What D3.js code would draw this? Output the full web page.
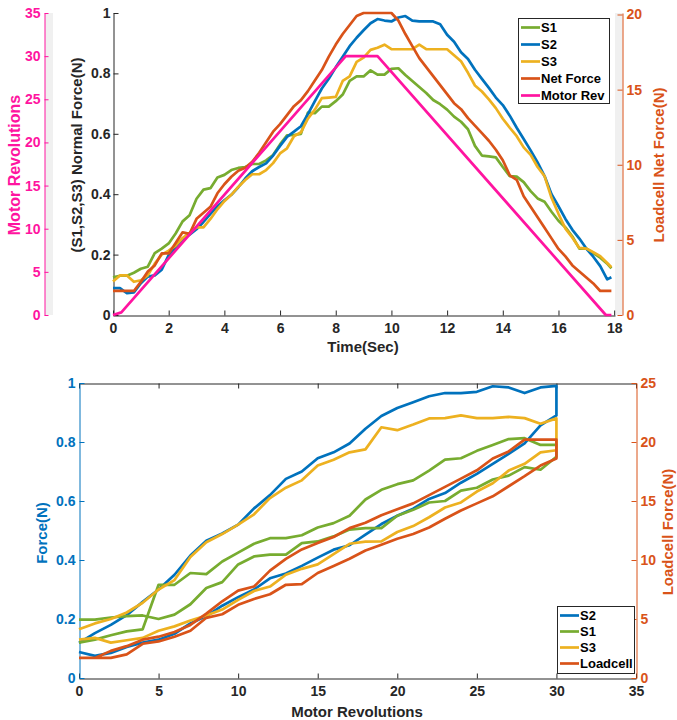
<!DOCTYPE html>
<meta charset="utf-8">
<style>
body { margin: 0; background: #fff; }
text { font-family: 'Liberation Sans', Arial, Helvetica, sans-serif; font-weight: bold; }
.tick text { font-size: 14px; }
.lbl { font-size: 15px; }
.big { font-size: 16px; }
.leg { font-size: 13px; }
.series { fill: none; stroke-width: 2.7; stroke-linejoin: round; }
</style>
<body>
<script src="https://d3js.org/d3.v7.min.js"></script>
<script>

// ---- top chart: sensor forces against time ----
const timeSec = [0,0.25,0.5,0.75,1,1.25,1.5,1.75,2,2.25,2.5,2.75,3,3.25,3.5,3.75,
  4,4.25,4.5,4.75,5,5.25,5.5,5.75,6,6.25,6.5,6.75,7,7.25,7.5,7.75,
  8,8.25,8.5,8.75,9,9.25,9.5,9.75,10,10.25,10.5,10.75,11,11.25,11.5,11.75,
  12,12.25,12.5,12.75,13,13.25,13.5,13.75,14,14.25,14.5,14.75,15,15.25,15.5,15.75,
  16,16.25,16.5,16.75,17,17.25,17.5,17.75,17.9];

const s1Force = [0.125,0.13,0.13,0.14,0.153,0.16,0.205,0.22,
  0.237,0.27,0.31,0.33,0.385,0.415,0.42,0.455,
  0.464,0.48,0.487,0.49,0.5,0.5,0.512,0.53,
  0.565,0.595,0.596,0.6,0.67,0.668,0.69,0.69,
  0.708,0.73,0.775,0.79,0.79,0.81,0.796,0.796,
  0.815,0.817,0.795,0.775,0.755,0.735,0.712,0.698,
  0.68,0.657,0.64,0.615,0.56,0.528,0.525,0.522,
  0.49,0.46,0.458,0.44,0.41,0.386,0.375,0.342,
  0.312,0.29,0.26,0.22,0.22,0.205,0.19,0.17,0.154];

const s2Force = [0.089,0.089,0.072,0.075,0.105,0.127,0.131,0.15,
  0.198,0.22,0.25,0.266,0.284,0.308,0.335,0.36,
  0.38,0.398,0.423,0.452,0.476,0.49,0.502,0.528,
  0.56,0.59,0.607,0.625,0.665,0.708,0.75,0.782,
  0.82,0.855,0.89,0.918,0.943,0.966,0.98,0.975,
  0.972,0.985,0.99,0.975,0.972,0.972,0.972,0.963,
  0.928,0.905,0.87,0.848,0.812,0.782,0.752,0.72,
  0.695,0.66,0.62,0.583,0.545,0.505,0.46,0.40,
  0.36,0.318,0.282,0.253,0.22,0.193,0.162,0.118,0.125];

const s3Force = [0.111,0.131,0.131,0.11,0.115,0.131,0.17,0.2,
  0.213,0.23,0.255,0.272,0.29,0.29,0.318,0.35,
  0.377,0.398,0.424,0.447,0.466,0.466,0.48,0.503,
  0.535,0.552,0.592,0.605,0.65,0.68,0.718,0.72,
  0.722,0.775,0.79,0.838,0.852,0.878,0.885,0.895,
  0.88,0.88,0.88,0.88,0.895,0.88,0.88,0.88,
  0.88,0.86,0.84,0.802,0.76,0.74,0.714,0.685,
  0.65,0.62,0.592,0.555,0.53,0.49,0.46,0.388,
  0.335,0.286,0.256,0.222,0.22,0.208,0.195,0.172,0.158];

const netForce = [1.6,1.6,1.6,1.6,2.2,2.9,3.3,4.1,
  4.1,4.8,5.5,5.4,6.4,6.8,7.2,8.1,
  8.7,9.2,9.6,9.8,10.2,10.8,11.5,12.2,
  12.7,13.3,13.9,14.3,14.9,15.6,16.3,17.2,
  18.0,18.7,19.3,19.9,20.1,20.1,20.1,20.1,
  20.1,19.6,18.7,17.9,17.1,16.5,15.9,15.3,
  14.7,14.1,13.7,13.1,12.6,12.1,11.6,11.0,
  10.3,9.3,9.0,7.9,7.2,6.5,5.8,5.1,
  4.4,3.9,3.3,2.9,2.5,2.1,1.6,1.6,1.6];

const motorTime = [0, 0.3, 8.36, 9.5, 17.7, 17.9];
const motorRev = [0, 0.3, 30, 30, 0, 0];

// ---- bottom chart: forces against motor revolutions ----
const revGrid = [0,1,2,3,4,5,6,7,8,9,10,11,12,13,14,15,16,17,18,19,20,21,22,23,24,25,26,27,28,29,30];

const s2Load = [0.088,0.075,0.085,0.105,0.12,0.13,0.15,0.185,0.21,0.245,0.274,0.3,0.338,0.354,0.38,0.408,
  0.435,0.45,0.486,0.522,0.55,0.574,0.607,0.627,0.662,0.692,0.726,0.76,0.795,0.856,0.89];
const s2Unload = [0.119,0.152,0.18,0.213,0.258,0.3,0.35,0.415,0.465,0.49,0.52,0.575,0.62,0.675,0.70,0.745,
  0.765,0.795,0.845,0.888,0.915,0.935,0.955,0.966,0.966,0.97,0.989,0.985,0.966,0.985,0.99];

const s1Load = [0.198,0.198,0.205,0.21,0.212,0.2,0.215,0.25,0.305,0.325,0.385,0.412,0.418,0.418,0.457,0.463,
  0.48,0.503,0.508,0.508,0.55,0.57,0.595,0.6,0.635,0.645,0.673,0.686,0.715,0.706,0.75];
const s1Unload = [0.12,0.13,0.145,0.158,0.165,0.316,0.316,0.356,0.352,0.395,0.425,0.455,0.474,0.474,0.484,0.51,
  0.525,0.55,0.605,0.638,0.657,0.67,0.703,0.74,0.745,0.77,0.79,0.81,0.813,0.79,0.79];

const s3Load = [0.13,0.136,0.12,0.128,0.136,0.16,0.175,0.195,0.212,0.232,0.265,0.295,0.31,0.35,0.37,0.385,
  0.42,0.455,0.462,0.463,0.495,0.515,0.545,0.578,0.595,0.632,0.66,0.703,0.726,0.765,0.772];
const s3Unload = [0.165,0.185,0.2,0.222,0.255,0.3,0.332,0.41,0.46,0.488,0.52,0.555,0.61,0.645,0.67,0.72,
  0.74,0.765,0.775,0.85,0.84,0.859,0.88,0.881,0.89,0.881,0.881,0.885,0.881,0.862,0.88];

const cellLoad = [1.7,1.7,1.7,2.0,2.9,3.1,3.5,4.0,5.1,5.4,6.2,6.7,7.1,7.9,7.95,8.9,
  9.5,10.1,10.8,11.3,11.8,12.2,12.75,13.5,14.2,14.8,15.4,16.25,17.1,18.0,18.6];
const cellUnload = [1.7,1.7,2.3,2.7,3.25,3.5,3.9,4.5,5.45,6.5,7.4,7.75,9.1,10.1,10.9,11.45,
  11.95,12.7,13.15,13.8,14.3,14.8,15.5,16.2,16.9,17.6,18.6,19.2,20.2,20.2,20.2];

const blue = "#0072bd", orange = "#d95319", yellow = "#edb120", green = "#77ac30",
      pink = "#ff14a0", ink = "#262626";

let svg = d3.select("body").append("svg")
            .attr("width", 677)
            .attr("height", 720);

function styleAxis(g, color) {
  g.select(".domain").attr("stroke", color).attr("stroke-width", 1);
  g.selectAll(".tick line").attr("stroke", color);
  g.selectAll(".tick text").attr("fill", color);
}

function drawLine(g, pts, x, y, color) {
  g.append("path")
    .datum(pts)
    .attr("class", "series")
    .attr("stroke", color)
    .attr("d", d3.line().x(d => x(d[0])).y(d => y(d[1])));
}

// ===================== top chart =====================
const xT = d3.scaleLinear().domain([0, 18.03]).range([113, 615]),
      yT = d3.scaleLinear().domain([0, 1]).range([315, 13]),
      yTR = d3.scaleLinear().domain([0, 20.1]).range([315, 13]),
      yTP = d3.scaleLinear().domain([0, 35]).range([315, 13]);

svg.append("rect").attr("x", 45).attr("y", 13).attr("width", 8).attr("height", 302).attr("fill", "#f0f0f0");
svg.append("rect").attr("x", 615).attr("y", 13).attr("width", 7.5).attr("height", 302).attr("fill", "#f0f0f0");

const topG = svg.append("g");

topG.append("g").attr("transform", "translate(44.5,0)")
  .call(d3.axisLeft(yTP).tickValues(d3.range(0, 36, 5)).tickSizeInner(-4).tickSizeOuter(0).tickPadding(4))
  .call(g => styleAxis(g, pink));

topG.append("g").attr("transform", "translate(113.5,0)")
  .call(d3.axisLeft(yT).tickValues([0, 0.2, 0.4, 0.6, 0.8, 1]).tickFormat(d3.format("~g"))
        .tickSizeInner(-5).tickSizeOuter(0).tickPadding(3))
  .call(g => styleAxis(g, ink));

topG.append("g").attr("transform", "translate(0,315.5)")
  .call(d3.axisBottom(xT).tickValues(d3.range(0, 19, 2)).tickSizeInner(-5).tickSizeOuter(0).tickPadding(8))
  .call(g => styleAxis(g, ink));

topG.append("g").attr("transform", "translate(622.5,0)")
  .call(d3.axisRight(yTR).tickValues([0, 5, 10, 15, 20]).tickSizeInner(-5).tickSizeOuter(0).tickPadding(4))
  .call(g => styleAxis(g, orange));

const topLines = topG.append("g");
drawLine(topLines, timeSec.map((t, i) => [t, s1Force[i]]), xT, yT, green);
drawLine(topLines, timeSec.map((t, i) => [t, s2Force[i]]), xT, yT, blue);
drawLine(topLines, timeSec.map((t, i) => [t, s3Force[i]]), xT, yT, yellow);
drawLine(topLines, timeSec.map((t, i) => [t, netForce[i]]), xT, yTR, orange);
drawLine(topLines, motorTime.map((t, i) => [t, motorRev[i]]), xT, yTP, pink);

topG.append("text").attr("class", "lbl").attr("text-anchor", "middle")
  .attr("x", 363).attr("y", 352).attr("fill", ink).text("Time(Sec)");
topG.append("text").attr("class", "lbl").attr("text-anchor", "middle")
  .attr("transform", "translate(82,155) rotate(-90)").attr("fill", ink).text("(S1,S2,S3) Normal Force(N)");
topG.append("text").attr("class", "big").attr("text-anchor", "middle")
  .attr("transform", "translate(20,165) rotate(-90)").attr("fill", pink).text("Motor Revolutions");
topG.append("text").attr("class", "lbl").attr("text-anchor", "middle")
  .attr("transform", "translate(664,165) rotate(-90)").attr("fill", orange).text("Loadcell Net Force(N)");

function legend(x, y, w, h, step, items) {
  const g = svg.append("g");
  g.append("rect").attr("x", x + 0.5).attr("y", y + 0.5).attr("width", w).attr("height", h)
    .attr("fill", "#fff").attr("stroke", ink).attr("stroke-width", 1);
  const row = g.selectAll("g.row").data(items).join("g")
    .attr("transform", (d, i) => `translate(${x},${y + 9.5 + i * step})`);
  row.append("line").attr("x1", 3).attr("x2", 22).attr("stroke", d => d[1]).attr("stroke-width", 2.7);
  row.append("text").attr("class", "leg").attr("x", 23).attr("dy", "0.36em").attr("fill", "#000").text(d => d[0]);
}

legend(518, 18, 91, 85, 17, [["S1", green], ["S2", blue], ["S3", yellow], ["Net Force", orange], ["Motor Rev", pink]]);

// ===================== bottom chart =====================
const xB = d3.scaleLinear().domain([0, 35]).range([79, 636]),
      yB = d3.scaleLinear().domain([0, 1]).range([678, 383]),
      yBR = d3.scaleLinear().domain([0, 25]).range([678, 383]);

const botG = svg.append("g");

botG.append("g").attr("transform", "translate(0,383.5)")
  .call(d3.axisTop(xB).tickValues(d3.range(0, 36, 5)).tickFormat("").tickSizeInner(-5).tickSizeOuter(0))
  .call(g => styleAxis(g, ink));
botG.append("g").attr("transform", "translate(0,678.5)")
  .call(d3.axisBottom(xB).tickValues(d3.range(0, 36, 5)).tickSizeInner(-5).tickSizeOuter(0).tickPadding(8))
  .call(g => styleAxis(g, ink));
botG.append("g").attr("transform", "translate(79.5,0)")
  .call(d3.axisLeft(yB).tickValues([0, 0.2, 0.4, 0.6, 0.8, 1]).tickFormat(d3.format("~g"))
        .tickSizeInner(-5).tickSizeOuter(0).tickPadding(4))
  .call(g => styleAxis(g, blue));
botG.append("g").attr("transform", "translate(636.5,0)")
  .call(d3.axisRight(yBR).tickValues(d3.range(0, 26, 5)).tickSizeInner(-5).tickSizeOuter(0).tickPadding(4))
  .call(g => styleAxis(g, orange));

function loop(load, unload) {
  return revGrid.map((r, i) => [r, load[i]]).concat(revGrid.map((r, i) => [r, unload[i]]).reverse());
}

const botLines = botG.append("g");
drawLine(botLines, loop(s2Load, s2Unload), xB, yB, blue);
drawLine(botLines, loop(s1Load, s1Unload), xB, yB, green);
drawLine(botLines, loop(s3Load, s3Unload), xB, yB, yellow);
drawLine(botLines, loop(cellLoad, cellUnload), xB, yBR, orange);

botG.append("text").attr("class", "lbl").attr("text-anchor", "middle")
  .attr("x", 357).attr("y", 717).attr("fill", ink).text("Motor Revolutions");
botG.append("text").attr("class", "lbl").attr("text-anchor", "middle")
  .attr("transform", "translate(47,533) rotate(-90)").attr("fill", blue).text("Force(N)");
botG.append("text").attr("class", "lbl").attr("text-anchor", "middle")
  .attr("transform", "translate(673,532) rotate(-90)").attr("fill", orange).text("Loadcell Force(N)");

legend(557, 606, 77, 67, 16, [["S2", blue], ["S1", green], ["S3", yellow], ["Loadcell", orange]]);

</script>
